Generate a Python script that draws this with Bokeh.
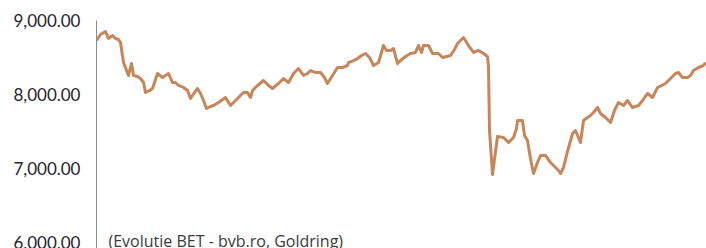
from bokeh.plotting import figure
from bokeh.models import Range1d, FixedTicker, NumeralTickFormatter, Label
from bokeh.embed import file_html
from bokeh.resources import INLINE

# trading-day index and BET index values
days = [
    0, 4, 9, 12, 16, 19, 22, 24, 27, 32,
    35, 37, 41, 44, 47, 49, 53, 56, 61, 66,
    72, 76, 79, 82, 87, 91, 94, 98, 101, 104,
    107, 110, 114, 117, 122, 129, 134, 138, 141, 147,
    151, 154, 156, 161, 167, 172, 176, 182, 187, 192,
    197, 202, 207, 211, 214, 219, 224, 228, 231, 236,
    241, 246, 251, 252, 257, 261, 265, 269, 273, 277,
    282, 287, 290, 294, 297, 301, 304, 309, 314, 319,
    322, 325, 327, 332, 336, 342, 346, 350, 354, 358,
    361, 367, 372, 377, 382, 387, 391, 392, 393, 396,
    401, 407, 412, 417, 420, 421, 426, 428, 431, 434,
    437, 441, 444, 449, 454, 459, 462, 464, 467, 471,
    476, 479, 484, 487, 491, 494, 497, 501, 504, 509,
    514, 518, 522, 527, 531, 536, 542, 546, 551, 556,
    561, 565, 569, 574, 579, 582, 586, 591, 594, 597,
    602, 607, 609,
]
bet = [
    8730, 8811, 8851, 8757, 8797, 8757, 8743, 8703, 8432, 8257,
    8419, 8257, 8243, 8216, 8162, 8027, 8054, 8081, 8284, 8230,
    8284, 8162, 8162, 8122, 8095, 8054, 7946, 8027, 8081, 8014,
    7919, 7811, 7838, 7851, 7892, 7959, 7851, 7905, 7946, 8027,
    8027, 7959, 8054, 8122, 8189, 8122, 8081, 8149, 8216, 8162,
    8284, 8351, 8257, 8284, 8324, 8297, 8297, 8230, 8149, 8257,
    8365, 8365, 8392, 8432, 8459, 8486, 8527, 8554, 8500, 8392,
    8432, 8662, 8595, 8595, 8622, 8419, 8459, 8514, 8554, 8568,
    8662, 8568, 8662, 8662, 8554, 8554, 8500, 8514, 8527, 8608,
    8689, 8770, 8662, 8568, 8595, 8554, 8514, 8365, 7514, 6919,
    7432, 7419, 7351, 7419, 7541, 7649, 7649, 7446, 7378, 7135,
    6932, 7081, 7176, 7176, 7081, 7014, 6973, 6932, 7014, 7230,
    7473, 7514, 7351, 7649, 7689, 7716, 7757, 7824, 7743, 7689,
    7622, 7784, 7892, 7851, 7919, 7824, 7851, 7919, 8014, 7959,
    8095, 8122, 8149, 8216, 8284, 8297, 8230, 8230, 8257, 8324,
    8365, 8392, 8432,
]
y_ticks = [6000, 7000, 8000, 9000]
caption = "(Evoluție BET - bvb.ro, Goldring)"

p = figure(width=706, height=248, output_backend="svg", toolbar_location=None,
           x_range=Range1d(0, 610), y_range=Range1d(5919, 9000),
           min_border_left=96, min_border_right=0, min_border_top=20, min_border_bottom=0)
p.background_fill_color = "white"
p.border_fill_color = "white"
p.outline_line_color = None
p.xaxis.visible = False
p.xgrid.visible = False
p.ygrid.visible = False

ya = p.yaxis[0]
ya.ticker = FixedTicker(ticks=y_ticks)
ya.formatter = NumeralTickFormatter(format="0,0.00")
ya.major_tick_line_color = None
ya.minor_tick_line_color = None
ya.major_tick_out = 0
ya.major_tick_in = 0
ya.major_label_standoff = 16
ya.axis_line_color = "#8c8c8c"
ya.axis_line_width = 1
ya.major_label_text_font = "Lato"
ya.major_label_text_font_size = "17px"
ya.major_label_text_color = "#1f2430"

p.line(days, bet, line_color="#C8855A", line_width=3, line_join="round")

p.add_layout(Label(x=12, y=8, x_units="screen", y_units="screen", text=caption,
                   text_font="Open Sans", text_font_size="16px", text_color="#3a3a3a",
                   text_baseline="alphabetic"))

open("out.html", "w").write(file_html(p, INLINE))
